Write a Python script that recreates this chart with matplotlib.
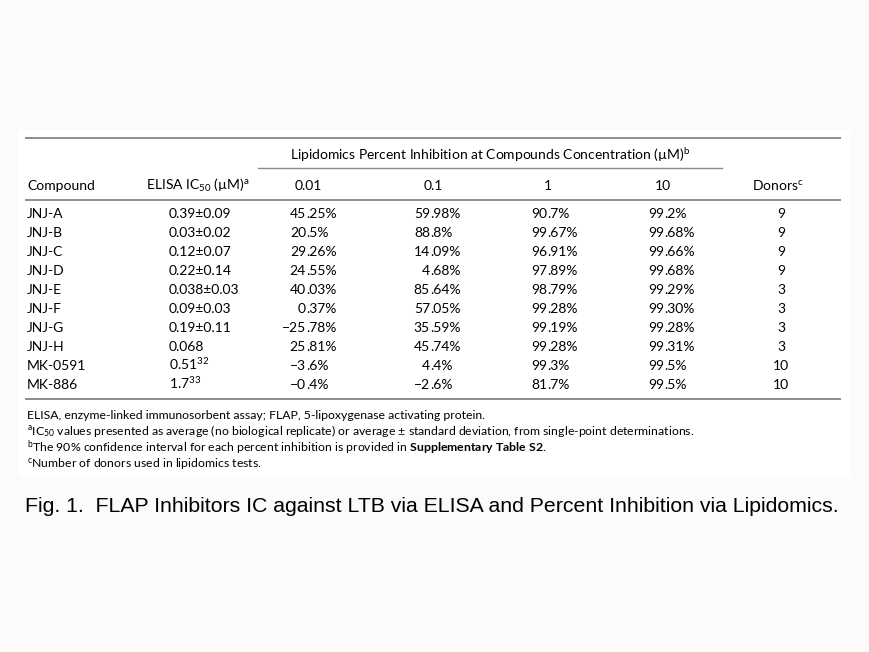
import matplotlib
matplotlib.use("Agg")
import matplotlib.pyplot as plt
from matplotlib.patches import Rectangle

# --- Data ---
compounds = ["JNJ-A", "JNJ-B", "JNJ-C", "JNJ-D", "JNJ-E", "JNJ-F", "JNJ-G", "JNJ-H", "MK-0591", "MK-886"]
elisa_ic50 = ["0.39±0.09", "0.03±0.02", "0.12±0.07", "0.22±0.14", "0.038±0.03", "0.09±0.03",
              "0.19±0.11", "0.068", "0.51$^{\\mathrm{32}}$", "1.7$^{\\mathrm{33}}$"]
conc_labels = ["0.01", "0.1", "1", "10"]
inhib_001 = ["45.25%", "20.5%", "29.26%", "24.55%", "40.03%", "0.37%", "−25.78%", "25.81%", "−3.6%", "−0.4%"]
inhib_01 = ["59.98%", "88.8%", "14.09%", "4.68%", "85.64%", "57.05%", "35.59%", "45.74%", "4.4%", "−2.6%"]
inhib_1 = ["90.7%", "99.67%", "96.91%", "97.89%", "98.79%", "99.28%", "99.19%", "99.28%", "99.3%", "81.7%"]
inhib_10 = ["99.2%", "99.68%", "99.66%", "99.68%", "99.29%", "99.30%", "99.28%", "99.31%", "99.5%", "99.5%"]
donors = [9, 9, 9, 9, 3, 3, 3, 3, 10, 10]

footnotes = [
    "ELISA, enzyme-linked immunosorbent assay; FLAP, 5-lipoxygenase activating protein.",
    "$^{\\mathrm{a}}$IC$_{\\mathrm{50}}$ values presented as average (no biological replicate) or average ± standard deviation, from single-point determinations.",
    "$^{\\mathrm{b}}$The 90% confidence interval for each percent inhibition is provided in $\\mathbf{Supplementary\\ Table\\ S2}$.",
    "$^{\\mathrm{c}}$Number of donors used in lipidomics tests.",
]
caption = "Fig. 1.  FLAP Inhibitors IC against LTB via ELISA and Percent Inhibition via Lipidomics."

# --- Style ---
plt.rcParams["font.family"] = ["Lato", "DejaVu Sans"]
plt.rcParams["mathtext.fontset"] = "custom"
plt.rcParams["mathtext.rm"] = "Lato"
plt.rcParams["mathtext.it"] = "Lato:italic"
plt.rcParams["mathtext.bf"] = "Lato:bold"

fs = 10
line_col = "#8c8c8c"

fig = plt.figure(figsize=(8.69, 6.52), dpi=100, facecolor="#fcfafa")
ax = fig.add_axes([0, 0, 1, 1])
ax.set_xlim(0, 869)
ax.set_ylim(652, 0)
ax.axis("off")

# white panel behind the table
ax.add_patch(Rectangle((18, 130), 833, 347, facecolor="white", edgecolor="none"))

# rules
ax.plot([26, 840], [138, 138], color=line_col, lw=1.4)
ax.plot([258, 722], [168, 168], color=line_col, lw=1.0)
ax.plot([26, 840], [200, 200], color=line_col, lw=1.4)
ax.plot([26, 840], [399, 399], color=line_col, lw=1.4)

# headers (baseline aligned)
ax.text(490, 159.5, "Lipidomics Percent Inhibition at Compounds Concentration (µM)$^{\\mathrm{b}}$",
        ha="center", va="baseline", fontsize=fs)
hy = 189.5
ax.text(27, hy, "Compound", ha="left", va="baseline", fontsize=fs)
ax.text(146, hy, "ELISA IC$_{\\mathrm{50}}$ (µM)$^{\\mathrm{a}}$", ha="left", va="baseline", fontsize=fs)
conc_x = [308, 433, 548, 663]
for cx, lab in zip(conc_x, conc_labels):
    ax.text(cx, hy, lab, ha="center", va="baseline", fontsize=fs)
ax.text(778, hy, "Donors$^{\\mathrm{c}}$", ha="center", va="baseline", fontsize=fs)

# body rows
row_y0, row_dy = 218, 19.0
dec_x = [306, 430, 547, 664]  # decimal point positions
cols = [inhib_001, inhib_01, inhib_1, inhib_10]
for i, name in enumerate(compounds):
    y = row_y0 + i * row_dy
    ax.text(27, y, name, ha="left", va="baseline", fontsize=fs)
    ax.text(169, y, elisa_ic50[i], ha="left", va="baseline", fontsize=fs)
    for dx, col in zip(dec_x, cols):
        whole, frac = col[i].split(".")
        ax.text(dx, y, whole, ha="right", va="baseline", fontsize=fs)
        ax.text(dx, y, "." + frac, ha="left", va="baseline", fontsize=fs)
    ax.text(781, y, str(donors[i]), ha="center", va="baseline", fontsize=fs)

# footnotes
for k, note in enumerate(footnotes):
    ax.text(27, 419 + k * 16.3, note, ha="left", va="baseline", fontsize=8.8)

# caption
ax.text(25, 507, caption, ha="left", va="center", fontsize=15.3,
        family=["Liberation Sans", "DejaVu Sans"])

fig.savefig("out.png", dpi=100, facecolor=fig.get_facecolor())
